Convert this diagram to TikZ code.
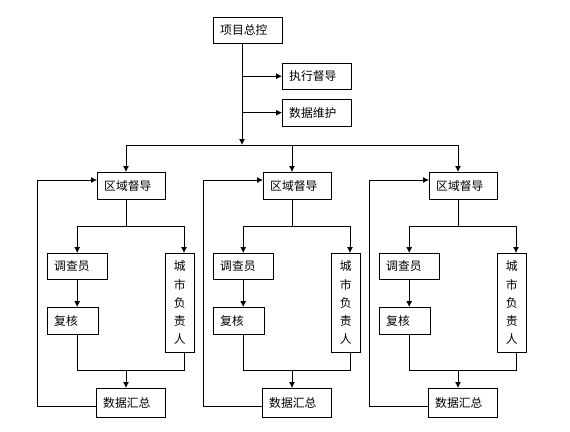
\documentclass[tikz,border=0pt]{standalone}
\usepackage{fontspec}
\setmainfont{Noto Sans CJK SC}
\usetikzlibrary{arrows.meta,positioning,calc}

\tikzset{
  box/.style={draw, rectangle, anchor=north west, inner xsep=7pt, inner ysep=0pt,
    text width=#1, align=left, minimum height=26pt, font=\fontsize{11.8}{13}\selectfont},
  vbox/.style={draw, rectangle, anchor=north west, inner sep=0pt, text width=29pt,
    align=center, minimum height=99pt, font=\fontsize{11.8}{18.2}\selectfont},
  line/.style={draw, line width=0.8pt},
  arr/.style={line, -{Latex[length=6pt,width=6pt]}},
}

\begin{document}
\begin{tikzpicture}[x=1pt,y=-1pt]
  \useasboundingbox (0,0) rectangle (570,431);
  %top
  \node[box=55pt] (pm) at (213,17) {项目总控};
  \node[box=55pt] (zx) at (282,63) {执行督导};
  \node[box=55pt, minimum height=27pt] (sj) at (282,99) {数据维护};
  \coordinate (tr) at (242,145);
  \draw[arr] (pm.south -| tr) -- (tr);
  \draw[arr] (tr |- zx.west) -- (zx.west);
  \draw[arr] (tr |- sj.west) -- (sj.west);
  %groups
  \foreach \i/\dx in {1/0,2/166,3/332} {
    \node[box=54pt, minimum height=27pt] (qy\i) at (97+\dx,172) {区域督导};
    \node[box=46pt] (dc\i) at (47+\dx,253) {调查员};
    \node[box=37pt, minimum height=27pt] (fh\i) at (47+\dx,307) {复核};
    \node[vbox] (cs\i) at (165+\dx,253) {城\\市\\负\\责\\人};
    \node[box=55pt, minimum height=29pt] (hz\i) at (96+\dx,388) {数据汇总};
    \coordinate (t\i) at (126+\dx,145);
    \coordinate (s\i) at (126+\dx,226);
    \coordinate (cx\i) at (184+\dx,226);
    \coordinate (j\i) at (126+\dx,370);
    \coordinate (f\i) at (37+\dx,180);
    \draw[arr] (t\i) -- (t\i |- qy\i.north);
    \draw[line] (qy\i.south -| s\i) -- (s\i);
    \draw[arr] (s\i) -| (dc\i.north);
    \draw[arr] (s\i) -| (cs\i.north -| cx\i);
    \draw[arr] (dc\i.south) -- (dc\i.south |- fh\i.north);
    \draw[line] (fh\i.south -| dc\i.south) -- (dc\i.south |- j\i) -- (cx\i |- j\i) -- (cs\i.south -| cx\i);
    \draw[arr] (j\i) -- (j\i |- hz\i.north);
    \draw[arr] ($(hz\i.west)+(0,4)$) -| (f\i) -- (f\i -| qy\i.west);
  }
  \draw[line] (t1) -- (t3);
\end{tikzpicture}
\end{document}
